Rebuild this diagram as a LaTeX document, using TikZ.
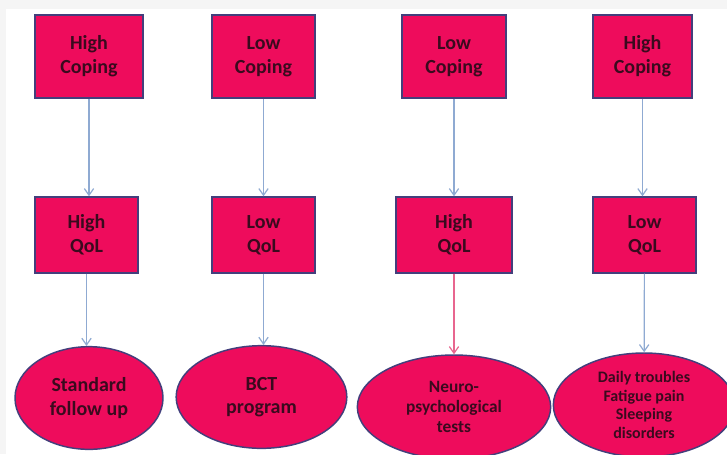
\documentclass[tikz,border=0pt]{standalone}
\usepackage{fontspec}
\setmainfont{Carlito}
\usetikzlibrary{arrows.meta,shapes.geometric}
\definecolor{boxpink}{HTML}{EE0C5C}
\definecolor{boxedge}{HTML}{433F7C}
\definecolor{boxtext}{HTML}{3A0A1E}
\definecolor{arrblue}{HTML}{8FAAD2}
\definecolor{arrpink}{HTML}{E8668F}
\begin{document}
\begin{tikzpicture}[
    x=0.75pt, y=-0.75pt,
    box/.style={draw=boxedge,line width=1.1pt,fill=boxpink,text=boxtext,align=center,
        font=\fontsize{15}{18}\selectfont\bfseries,inner sep=0pt},
    oval/.style={ellipse,draw=boxedge,line width=1.1pt,fill=boxpink,text=boxtext,align=center,
        font=\fontsize{15}{17.5}\selectfont\bfseries,inner sep=0pt},
    arr/.style={-{Straight Barb[length=5pt,width=7pt]},draw=arrblue,line width=0.9pt}
]
\useasboundingbox (0,0) rectangle (727,454);
\fill[black!4] (0,0) rectangle (727,454);
\fill[white] (6,9) rectangle (727,454);
\node[box,minimum width=81pt,minimum height=62pt] (cop1) at (89,56.5) {High\\Coping};
\node[box,minimum width=77pt,minimum height=62pt] (cop2) at (263.5,56.5) {Low\\Coping};
\node[box,minimum width=78pt,minimum height=62pt] (cop3) at (454,56.5) {Low\\Coping};
\node[box,minimum width=74pt,minimum height=62pt] (cop4) at (642.5,56.5) {High\\Coping};
\node[box,minimum width=77pt,minimum height=57pt] (qol1) at (86.5,235) {High\\QoL};
\node[box,minimum width=77pt,minimum height=57pt] (qol2) at (263.5,235) {Low\\QoL};
\node[box,minimum width=87pt,minimum height=57pt] (qol3) at (454,235) {High\\QoL};
\node[box,minimum width=77pt,minimum height=57pt] (qol4) at (644.5,235) {Low\\QoL};
\node[oval,minimum width=111pt,minimum height=77pt] (out1) at (89,398) {Standard\\follow up};
\node[oval,minimum width=128pt,minimum height=77pt] (out2) at (261.5,397) {BCT\\program};
\node[oval,minimum width=145pt,minimum height=78pt,font=\fontsize{13}{15}\selectfont\bfseries] (out3) at (454,407) {Neuro-\\psychological\\tests};
\node[oval,minimum width=136pt,minimum height=78pt,font=\fontsize{12}{14}\selectfont\bfseries] (out4) at (644,405) {Daily troubles\\Fatigue pain\\Sleeping\\disorders};
\draw[arr] (cop1) -- (qol1.north -| cop1);
\draw[arr] (cop2) -- (qol2);
\draw[arr] (cop3) -- (qol3);
\draw[arr] (cop4.south) -- (qol4.north -| cop4);
\draw[arr] (qol1) -- (out1.north -| qol1);
\draw[arr] (qol2) -- (out2.north -| qol2);
\draw[arr,draw=arrpink] (qol3) -- (out3);
\draw[arr] (qol4) -- (out4);
\end{tikzpicture}
\end{document}
